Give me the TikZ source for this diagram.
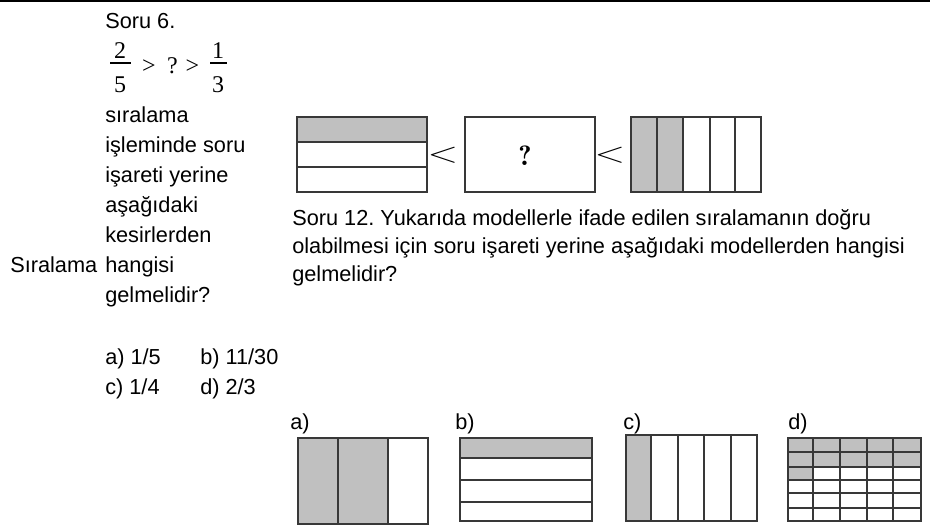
\documentclass[tikz,border=0pt]{standalone}
\usepackage{fontspec}
\setmainfont{Liberation Sans}
\newfontfamily\timesfont{Liberation Serif}
\usetikzlibrary{positioning}

\definecolor{cellgray}{HTML}{C0C0C0}
\definecolor{edgegray}{HTML}{383838}
\newcommand{\lessmark}{\scalebox{1.45}[1.05]{$<$}}

\tikzset{
  txt/.style = {anchor=base west, inner sep=0pt, font=\fontsize{16.3}{19}\selectfont\frenchspacing},
  num/.style = {anchor=base, inner sep=0pt, font=\timesfont\fontsize{18}{21}\selectfont},
  rel/.style = {inner sep=0pt, font=\fontsize{20}{24}\selectfont},
  model/.style = {draw=edgegray, line width=1.2pt},
}

\begin{document}
\begin{tikzpicture}[x=0.75pt, y=-0.75pt]
\useasboundingbox (0,0) rectangle (930,529);
\draw[line width=1.2pt] (0,1) -- (930,1);

% Soru 6
\node[txt] (soru6) at (105,28) {Soru 6.};
\node[num] (n2) at (120,58) {2};
\node[num] (n5) at (120,92) {5};
\draw[line width=0.8pt] (110,63) -- (131,63);
\node[num] (gt1) at (149,73) {>};
\node[num] (qm) at (172.5,73) {?};
\node[num] (gt2) at (192.5,73) {>};
\node[num] (n1) at (218,58) {1};
\node[num] (n3) at (218,92) {3};
\draw[line width=0.8pt] (210,63) -- (227,63);

\foreach \t [count=\i] in {sıralama, işleminde soru, işareti yerine, aşağıdaki,
    kesirlerden, hangisi, gelmelidir?}
  \node[txt] (line\i) at (105,92+30*\i) {\t};
\node[txt] (sira) at (10,272) {Sıralama};
\node[txt] (opta) at (105,364) {a) 1/5};
\node[txt] (optb) at (200,364) {b) 11/30};
\node[txt] (optc) at (105,394) {c) 1/4};
\node[txt] (optd) at (200,394) {d) 2/3};

% Soru 12 - ordering of models
\fill[cellgray] (297,117) rectangle (427,142);
\draw[model] (297,117) rectangle (427,192);
\draw[model] (297,142) -- (427,142) (297,167) -- (427,167);
\node[rel] (lt1) at (443,155) {\lessmark};
\draw[model] (465,117) rectangle (595,192);
\node[rel] (unknown) at (525,156) {\fontsize{21}{24}\fontfamily{lmr}\bfseries\selectfont ?};
\node[rel] (lt2) at (610,155) {\lessmark};
\fill[cellgray] (631,117) rectangle (683,192);
\draw[model] (631,117) rectangle (761,192);
\foreach \x in {657,683,710,735}
  \draw[model] (\x,117) -- (\x,192);

\node[txt] (cap1) at (292,225) {Soru 12. Yukarıda modellerle ifade edilen sıralamanın doğru};
\node[txt] (cap2) at (292,253) {olabilmesi için soru işareti yerine aşağıdaki modellerden hangisi};
\node[txt] (cap3) at (292,281) {gelmelidir?};

% answer models
\node[txt] (a) at (290,429) {a)};
\fill[cellgray] (298,438) rectangle (388,524);
\draw[model] (298,438) rectangle (428,524);
\draw[model] (338,438) -- (338,524) (388,438) -- (388,524);

\node[txt] (b) at (455,429) {b)};
\fill[cellgray] (460,438) rectangle (592,458);
\draw[model] (460,438) rectangle (592,521);
\foreach \y in {458,480,502}
  \draw[model] (460,\y) -- (592,\y);

\node[txt] (c) at (623,429) {c)};
\fill[cellgray] (626,435) rectangle (651,521);
\draw[model] (626,435) rectangle (757,521);
\foreach \x in {651,678,704,731}
  \draw[model] (\x,435) -- (\x,521);

\node[txt] (d) at (788,429) {d)};
\fill[cellgray] (788,438) rectangle (921,467);
\fill[cellgray] (788,467) rectangle (813,480);
\draw[model] (788,438) rectangle (921,521);
\foreach \x in {813,840,867,893}
  \draw[model] (\x,438) -- (\x,521);
\foreach \y in {452,467,480,493,508}
  \draw[model] (788,\y) -- (921,\y);
\end{tikzpicture}
\end{document}
